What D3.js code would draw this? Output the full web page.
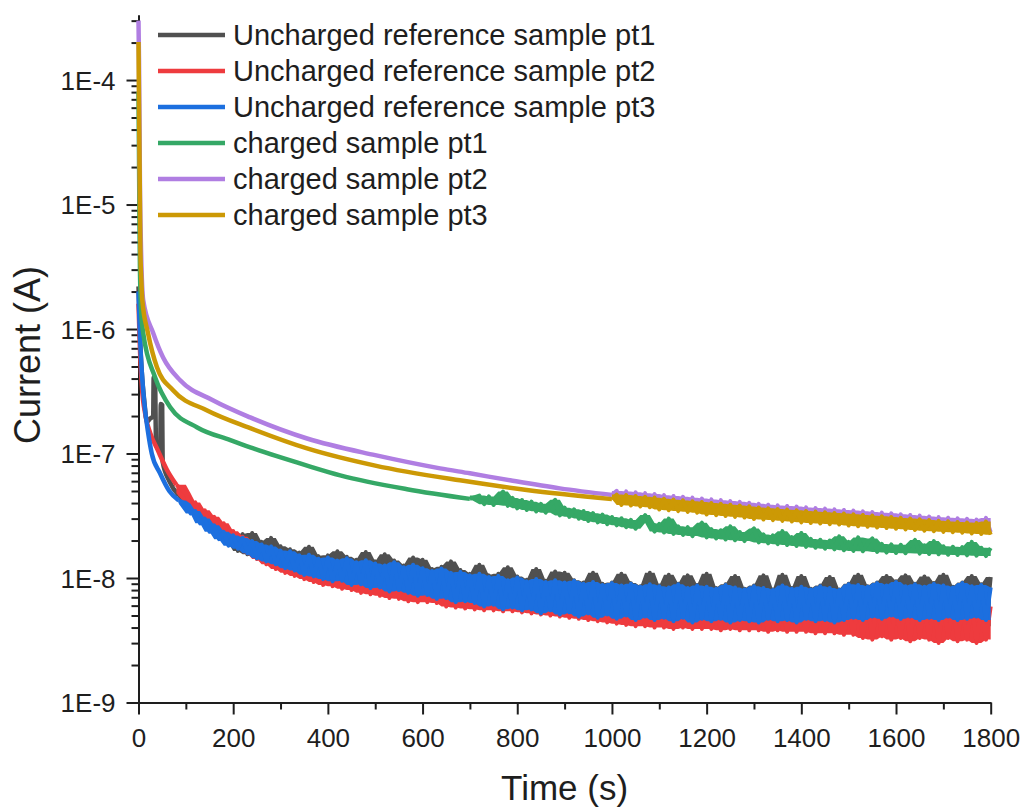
<!DOCTYPE html>
<html>
<head>
<meta charset="utf-8">
<script src="https://cdn.jsdelivr.net/npm/d3@7"></script>
<style>
  body { margin: 0; background: #fff; }
  text { font-family: "Liberation Sans", Arial, sans-serif; fill: #1e1e1e; }
</style>
</head>
<body>
<div id="chart"></div>
<script>
var W = 1026, H = 809;

// legend / colours
var seriesNames = ["Uncharged reference sample pt1", "Uncharged reference sample pt2", "Uncharged reference sample pt3",
                   "charged sample pt1", "charged sample pt2", "charged sample pt3"];
var seriesColors = ["#505050", "#ee3b3e", "#1c6fdf", "#35a866", "#b07ee2", "#cc9905"];

// axis ticks
var xTicks = [0, 200, 400, 600, 800, 1000, 1200, 1400, 1600, 1800];
var xMinor = [100, 300, 500, 700, 900, 1100, 1300, 1500, 1700];
var yTicks = [1e-9, 1e-8, 1e-7, 1e-6, 1e-5, 1e-4];
var yTickLabels = ["1E-9", "1E-8", "1E-7", "1E-6", "1E-5", "1E-4"];

// early part of each curve: time (s), current (A)
var ref1T = [0, 3, 7, 12, 18, 24, 31, 32, 35, 37, 40, 46, 47, 50, 51, 65, 85];
var ref1I = [2.2e-6, 9e-7, 4.5e-7, 2.7e-7, 1.8e-7, 1.9e-7, 2.0e-7, 4.1e-7, 3.9e-7, 1.2e-7, 1.1e-7, 1.05e-7, 2.5e-7, 2.45e-7, 8.6e-8, 6.0e-8, 4.6e-8];
var ref2T = [0, 3, 7, 15, 25, 40, 60, 80];
var ref2I = [1.6e-6, 7e-7, 3.5e-7, 2.0e-7, 1.45e-7, 1.08e-7, 7.4e-8, 5.6e-8];
var ref3T = [0, 3, 7, 12, 20, 28, 45, 65, 85];
var ref3I = [2.0e-6, 9e-7, 4.5e-7, 2.6e-7, 1.5e-7, 1.0e-7, 7.0e-8, 5.0e-8, 4.2e-8];
var chg1T = [0, 1, 2, 3, 5, 10, 35, 67, 124, 194, 236, 356, 426, 567, 700];
var chg1I = [8e-5, 2.7e-5, 7.5e-6, 3.2e-6, 1.55e-6, 9.25e-7, 4.1e-7, 2.35e-7, 1.62e-7, 1.28e-7, 1.12e-7, 8.0e-8, 6.68e-8, 5.17e-8, 4.32e-8];
var chg2T = [0, 1, 2, 3, 5, 10, 31, 52, 88, 157, 236, 356, 500, 637, 700, 785, 890, 1000];
var chg2I = [3.0e-4, 1.5e-4, 5e-5, 1.5e-5, 5e-6, 1.7e-6, 9.3e-7, 5.9e-7, 3.87e-7, 2.68e-7, 1.95e-7, 1.32e-7, 9.7e-8, 7.6e-8, 6.93e-8, 6.09e-8, 5.25e-8, 4.65e-8];
var chg3T = [0, 1, 2, 3, 4, 6, 8, 20, 39, 73, 145, 236, 356, 500, 679, 820, 1000];
var chg3I = [2.02e-4, 6.9e-5, 2.74e-5, 1.08e-5, 4.3e-6, 2.47e-6, 1.71e-6, 9.3e-7, 4.93e-7, 3.22e-7, 2.22e-7, 1.6e-7, 1.1e-7, 8.0e-8, 6.09e-8, 5.1e-8, 4.3e-8];

// noisy part, one reading every 10 s, current in nA
var ref1Start = 100;
var ref1Noise = [
  41.0, 35.0, 36.0, 29.0, 31.0, 24.5, 27.5, 21.0, 24.5, 19.0,
  23.0, 16.5, 22.5, 15.5, 23.0, 14.5, 19.5, 13.5, 21.0, 12.8,
  18.0, 11.5, 17.0, 11.0, 16.0, 10.5, 17.8, 10.0, 15.0, 9.8,
  15.2, 9.3, 16.4, 9.0, 14.8, 8.8, 14.0, 8.6, 16.2, 8.4,
  13.6, 8.2, 15.5, 8.0, 13.8, 7.8, 12.6, 7.6, 14.6, 7.4,
  14.0, 7.3, 11.8, 7.1, 12.3, 6.9, 13.6, 6.7, 11.6, 6.5,
  10.8, 6.4, 12.8, 6.2, 10.5, 6.1, 10.8, 6.0, 12.2, 5.9,
  10.3, 5.8, 9.7, 5.7, 11.8, 5.5, 9.5, 5.5, 11.3, 5.4,
  11.0, 5.3, 9.6, 5.2, 9.2, 5.2, 11.0, 5.1, 9.0, 5.0,
  9.2, 5.0, 10.8, 4.9, 9.1, 4.8, 8.6, 4.8, 11.0, 4.7,
  8.7, 4.7, 10.6, 4.6, 9.0, 4.6, 10.5, 4.5, 8.8, 4.5,
  10.8, 4.4, 8.3, 4.5, 8.9, 4.4, 10.4, 4.3, 8.2, 4.4,
  8.7, 4.3, 10.5, 4.3, 8.1, 4.2, 10.6, 4.3, 8.3, 4.2,
  10.4, 4.2, 8.2, 4.1, 8.7, 4.2, 10.2, 4.1, 8.1, 4.2,
  9.0, 4.1, 10.6, 4.2, 8.6, 4.1, 9.2, 4.0, 10.4, 4.1,
  9.4, 4.0, 10.5, 4.1, 9.0, 4.0, 10.3, 4.1, 9.1, 4.0,
  10.6, 4.1, 8.5, 3.9, 9.2, 4.1, 10.4, 4.0, 8.9, 4.1,
  10.2];
var ref2Start = 100;
var ref2Noise = [
  48.0, 38.5, 40.5, 32.0, 35.0, 27.0, 31.0, 23.8, 27.5, 20.0,
  23.8, 17.5, 21.4, 15.8, 19.5, 14.2, 18.0, 12.9, 16.5, 11.8,
  15.2, 11.0, 14.6, 10.4, 13.8, 9.8, 13.5, 9.3, 12.6, 8.8,
  12.3, 8.6, 11.9, 8.2, 11.4, 8.0, 11.3, 7.6, 10.9, 7.4,
  10.5, 7.2, 10.2, 6.9, 10.0, 6.8, 9.6, 6.5, 9.4, 6.4,
  9.1, 6.4, 8.9, 6.3, 8.8, 5.9, 8.0, 5.8, 7.9, 5.7,
  7.8, 5.6, 7.7, 5.5, 7.5, 5.5, 7.6, 5.4, 7.3, 5.4,
  7.2, 5.3, 7.3, 5.2, 7.0, 5.1, 7.1, 5.0, 6.9, 4.9,
  7.0, 4.8, 6.8, 4.7, 6.9, 4.6, 6.7, 4.5, 6.8, 4.4,
  6.7, 4.3, 6.6, 4.2, 6.7, 4.1, 6.5, 4.1, 6.4, 4.0,
  6.5, 4.0, 6.3, 3.9, 6.4, 4.0, 6.2, 3.9, 6.3, 3.9,
  6.2, 3.9, 6.1, 3.8, 6.0, 3.9, 6.1, 3.8, 5.9, 3.8,
  6.0, 3.8, 5.8, 3.7, 5.9, 3.8, 5.7, 3.7, 5.8, 3.7,
  5.7, 3.7, 5.6, 3.6, 5.7, 3.6, 5.5, 3.6, 5.6, 3.5,
  5.5, 3.5, 6.3, 3.3, 6.1, 3.2, 6.4, 3.4, 6.0, 3.2,
  6.2, 3.3, 6.1, 3.1, 6.3, 3.3, 5.9, 3.2, 6.2, 3.0,
  6.0, 3.3, 6.1, 3.1, 5.8, 3.2, 6.2, 3.0, 6.0, 3.2,
  5.9];
var ref3Start = 100;
var ref3Noise = [
  39.5, 33.0, 34.5, 27.5, 30.0, 23.5, 26.5, 20.5, 23.5, 18.2,
  22.0, 17.2, 21.0, 15.8, 19.8, 14.4, 18.6, 13.6, 17.9, 12.9,
  16.6, 12.0, 16.4, 11.5, 15.2, 10.6, 15.4, 10.3, 14.3, 9.8,
  14.6, 9.4, 13.8, 9.5, 14.4, 8.8, 13.4, 8.9, 13.9, 8.3,
  13.1, 8.4, 12.6, 7.8, 13.4, 8.0, 12.2, 7.6, 12.8, 7.2,
  12.0, 7.3, 11.4, 6.8, 11.9, 6.9, 11.0, 6.4, 11.2, 6.5,
  10.5, 6.3, 10.8, 5.9, 10.2, 6.1, 10.4, 5.6, 9.6, 5.8,
  10.1, 5.5, 9.4, 5.6, 9.8, 5.2, 9.3, 5.5, 9.6, 5.1,
  9.2, 5.3, 9.5, 4.9, 9.0, 5.2, 9.3, 4.8, 8.8, 5.1,
  9.1, 4.7, 8.7, 5.0, 9.0, 4.6, 8.5, 4.9, 8.9, 4.6,
  8.6, 4.8, 8.4, 4.5, 8.9, 4.8, 8.3, 4.4, 8.7, 4.7,
  8.5, 4.5, 8.2, 4.7, 8.8, 4.4, 8.4, 4.6, 8.1, 4.5,
  8.6, 4.4, 8.3, 4.7, 8.0, 4.5, 8.7, 4.6, 8.2, 4.4,
  8.5, 4.7, 8.1, 4.5, 8.6, 4.6, 8.3, 4.4, 8.0, 4.6,
  8.9, 4.8, 8.8, 4.6, 8.5, 4.9, 9.1, 4.7, 8.7, 5.0,
  9.3, 4.7, 8.6, 4.9, 8.9, 4.6, 8.5, 4.8, 9.0, 4.6,
  8.7, 4.9, 8.4, 4.6, 9.1, 4.7, 8.6, 4.9, 8.8, 4.6,
  8.4];
var chg1Start = 720;
var chg1Noise = [
  45.9, 39.2, 45.2, 38.6, 44.6, 49.5, 38.0, 44.0,
  36.3, 42.3, 35.2, 41.0, 34.3, 39.4, 33.5, 38.6, 42.5, 31.8,
  36.7, 31.0, 35.6, 30.0, 34.5, 28.7, 33.2, 28.0, 32.3, 27.1,
  30.9, 26.5, 30.2, 25.6, 29.3, 24.9, 28.6, 32.0, 27.6, 23.6,
  27.2, 23.2, 30.0, 22.6, 26.0, 22.2, 25.6, 21.7, 25.1, 27.8,
  21.2, 24.7, 20.8, 24.2, 20.4, 26.0, 20.1, 23.4, 19.8, 23.0,
  25.0, 19.3, 22.4, 19.0, 22.0, 18.7, 23.8, 18.4, 21.3, 18.1,
  23.0, 17.8, 20.6, 17.5, 20.3, 17.2, 20.0, 17.0, 21.6, 16.7,
  19.5, 16.5, 21.2, 16.4, 19.0, 20.8, 16.2, 18.8, 16.0, 18.6,
  15.9, 18.5, 15.8, 18.4, 20.2, 15.7, 18.3, 15.6, 19.8, 15.5,
  18.0, 15.4, 17.8, 15.3, 17.7, 15.2, 19.5, 15.1, 17.5, 15.0,
  17.4];
var chg2Start = 1010;
var chg2Noise = [
  50.1, 40.5, 49.6, 40.1, 48.8, 39.5, 48.0, 38.9, 47.3,
  37.3, 46.3, 36.8, 45.6, 36.2, 44.9, 35.7, 44.2, 35.2, 43.5,
  34.0, 42.8, 33.6, 42.2, 33.1, 41.5, 32.6, 40.9, 32.1, 40.2,
  31.3, 39.4, 31.0, 38.8, 30.7, 38.3, 30.2, 37.9, 29.9, 37.5,
  29.4, 36.9, 29.1, 36.5, 28.8, 36.1, 28.5, 35.6, 28.2, 35.2,
  27.7, 34.8, 27.4, 34.3, 27.1, 33.9, 26.8, 33.5, 26.5, 33.1,
  26.1, 32.5, 25.8, 32.1, 25.5, 31.7, 25.2, 31.2, 25.0, 30.8,
  24.7, 30.5, 24.5, 30.2, 24.3, 29.9, 23.9, 29.5, 23.7, 30.4,
  23.4];
var chg3Start = 1010;
var chg3Noise = [
  46.8, 38.6, 46.4, 38.2, 45.6, 37.6, 44.9, 37.0, 44.2,
  35.5, 43.3, 35.0, 42.6, 34.5, 42.0, 34.0, 41.3, 33.5, 40.7,
  32.4, 40.0, 32.0, 39.4, 31.5, 38.8, 31.0, 38.2, 30.6, 37.6,
  29.8, 36.8, 29.5, 36.3, 29.2, 35.8, 28.8, 35.4, 28.5, 35.0,
  28.0, 34.5, 27.7, 34.1, 27.4, 33.7, 27.1, 33.3, 26.9, 32.9,
  26.4, 32.5, 26.1, 32.1, 25.8, 31.7, 25.5, 31.3, 25.2, 30.9,
  24.9, 30.4, 24.6, 30.0, 24.3, 29.6, 24.0, 29.2, 23.8, 28.8,
  23.5, 28.5, 23.3, 28.2, 23.1, 27.9, 22.8, 27.6, 22.6, 28.4,
  22.3];

// smooth early part + noisy part (noisy part starts from the last early point)
function build(tEarly, iEarly, start, noise) {
  var smooth = tEarly.map(function(t, k) { return {t: t, i: iEarly[k]}; });
  var noisy = [smooth[smooth.length - 1]];
  noise.forEach(function(v, k) { noisy.push({t: start + 10 * k, i: v * 1e-9}); });
  // the dense trace fills the space between neighbouring readings
  noisy.forEach(function(d, k) {
    var nb = noisy.slice(Math.max(0, k - 1), k + 2).map(function(p) { return p.i; });
    d.lo = d3.min(nb); d.hi = d3.max(nb);
  });
  return {smooth: smooth, noisy: noisy};
}

var series = [
  build(ref1T, ref1I, ref1Start, ref1Noise),
  build(ref2T, ref2I, ref2Start, ref2Noise),
  build(ref3T, ref3I, ref3Start, ref3Noise),
  build(chg1T, chg1I, chg1Start, chg1Noise),
  build(chg2T, chg2I, chg2Start, chg2Noise),
  build(chg3T, chg3I, chg3Start, chg3Noise)
];

var svg = d3.select("#chart").append("svg").attr("width", W).attr("height", H);

var x = d3.scaleLinear().domain([0, 1800]).range([138.5, 990.7]);
var y = d3.scaleLog().domain([1e-9, 3.33e-4]).range([702.5, 15]);

// minor ticks on the log axis: 2..9 of every decade
var yMinor = [];
d3.range(-9, -3).forEach(function(e) {
  d3.range(2, 10).forEach(function(m) {
    var v = m * Math.pow(10, e);
    if (v <= 3.33e-4) yMinor.push(v);
  });
});

// Y axis
svg.append("g").attr("transform", "translate(138.5,0)")
  .call(d3.axisLeft(y).tickValues(yMinor).tickSize(7).tickSizeOuter(0).tickFormat(""));
var yAxisG = svg.append("g").attr("transform", "translate(138.5,0)")
  .call(d3.axisLeft(y).tickValues(yTicks).tickSize(12).tickSizeOuter(0).tickPadding(11)
    .tickFormat(function(d, k) { return yTickLabels[k]; }));

// X axis
svg.append("g").attr("transform", "translate(0,702.5)")
  .call(d3.axisBottom(x).tickValues(xMinor).tickSize(7).tickSizeOuter(0).tickFormat(""));
svg.append("g").attr("transform", "translate(0,702.5)")
  .call(d3.axisBottom(x).tickValues(xTicks).tickSize(12).tickSizeOuter(0).tickPadding(14)
    .tickFormat(d3.format("d")));

svg.selectAll(".domain").attr("stroke", "#1e1e1e").attr("stroke-width", 2);
svg.selectAll(".tick line").attr("stroke", "#1e1e1e").attr("stroke-width", 2);
svg.selectAll(".tick text").attr("font-size", "26px").attr("fill", "#1e1e1e")
   .style("font-family", "'Liberation Sans', Arial, sans-serif");
yAxisG.selectAll(".tick text").attr("dy", "0.36em");

// axis titles
svg.append("text")
  .attr("x", 564.6).attr("y", 800)
  .attr("text-anchor", "middle").attr("font-size", "35px")
  .text("Time (s)");
svg.append("text")
  .attr("transform", "translate(40,355) rotate(-90)")
  .attr("text-anchor", "middle").attr("font-size", "36px")
  .text("Current (A)");

// curves
var smoothLine = d3.line()
  .x(function(d) { return x(d.t); })
  .y(function(d) { return y(d.i); })
  .curve(d3.curveMonotoneX);
var noisyLine = d3.line()
  .x(function(d) { return x(d.t); })
  .y(function(d) { return y(d.i); });
var noisyBand = d3.area()
  .x(function(d) { return x(d.t); })
  .y0(function(d) { return y(d.lo); })
  .y1(function(d) { return y(d.hi); });

var curves = svg.append("g").selectAll("g").data(series).enter().append("g");
curves.append("path")
  .attr("d", function(d) { return smoothLine(d.smooth); })
  .attr("fill", "none")
  .attr("stroke", function(d, k) { return seriesColors[k]; })
  .attr("stroke-width", 4.5)
  .attr("stroke-linejoin", "round");
curves.append("path")
  .attr("d", function(d) { return noisyBand(d.noisy); })
  .attr("fill", function(d, k) { return seriesColors[k]; })
  .attr("stroke", "none");
curves.append("path")
  .attr("d", function(d) { return noisyLine(d.noisy); })
  .attr("fill", "none")
  .attr("stroke", function(d, k) { return seriesColors[k]; })
  .attr("stroke-width", 4)
  .attr("stroke-linejoin", "round");

// legend
var legend = svg.append("g").selectAll("g").data(seriesNames).enter().append("g")
  .attr("transform", function(d, k) { return "translate(0," + (35 + 36 * k) + ")"; });
legend.append("line")
  .attr("x1", 158).attr("x2", 225)
  .attr("stroke", function(d, k) { return seriesColors[k]; })
  .attr("stroke-width", 4.5);
legend.append("text")
  .attr("x", 233).attr("y", 10)
  .attr("font-size", "29px")
  .text(function(d) { return d; });
</script>
</body>
</html>
